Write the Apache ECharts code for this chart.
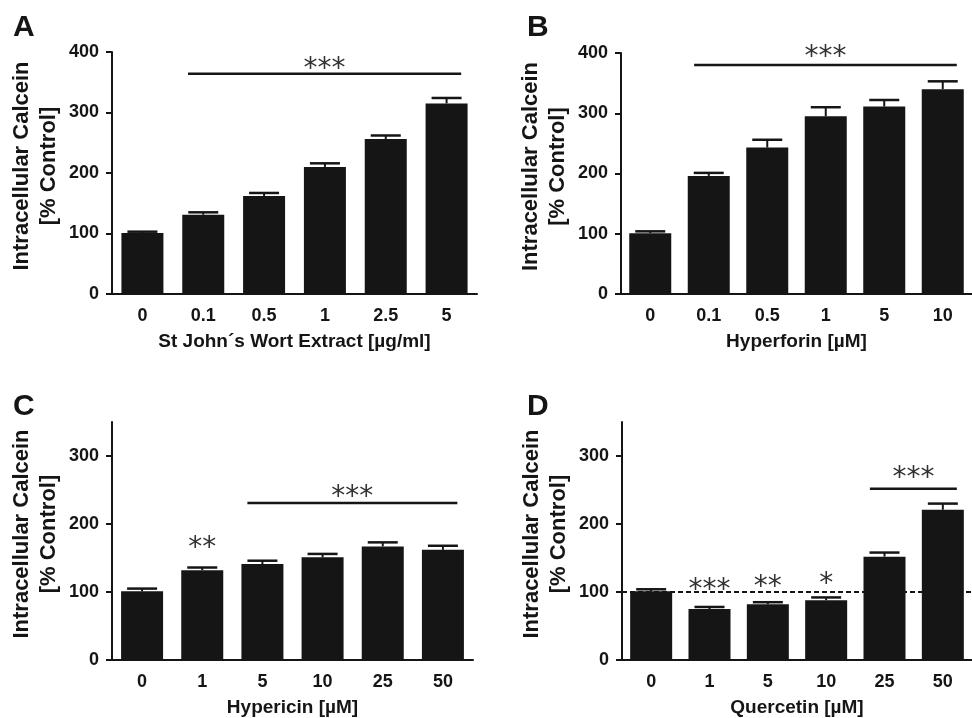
<!DOCTYPE html>
<html>
<head>
<meta charset="utf-8">
<script src="https://cdn.jsdelivr.net/npm/echarts@6/dist/echarts.min.js"></script>
<style>
html,body{margin:0;padding:0;background:#fff;}
#chart{width:972px;height:718px;}
</style>
</head>
<body>
<div id="chart"></div>
<script>
// ---- Data ----
const catsA = ['0', '0.1', '0.5', '1', '2.5', '5'];
const valsA = [101, 131, 162, 210, 256, 315];
const semA  = [2, 4, 5, 6, 6, 9];

const catsB = ['0', '0.1', '0.5', '1', '5', '10'];
const valsB = [101, 196, 243, 295, 311, 340];
const semB  = [3, 5, 13, 15, 11, 13];

const catsC = ['0', '1', '5', '10', '25', '50'];
const valsC = [101, 132, 141, 151, 167, 162];
const semC  = [4, 4, 5, 5, 6, 6];

const catsD = ['0', '1', '5', '10', '25', '50'];
const valsD = [101, 75, 82, 88, 152, 221];
const semD  = [3, 3, 3, 4, 6, 9];

const yTicksAB = [0, 100, 200, 300, 400];
const yTicksCD = [0, 100, 200, 300];

// significance lines: [fromIndex, toIndex, lineValue, label, labelValue]
const sigLinesA = [[1, 5, 364, '***', 380]];
const sigLinesB = [[1, 5, 380, '***', 402]];
const sigLinesC = [[2, 5, 231, '***', 247]];
const sigLinesD = [[4, 5, 252, '***', 276]];
// single-bar stars: [index, label, labelValue]
const sigStarsA = [];
const sigStarsB = [];
const sigStarsC = [[1, '**', 173]];
const sigStarsD = [[1, '***', 110], [2, '**', 115], [3, '*', 120]];

const xNames = ['St John\u00b4s Wort Extract [\u00b5g/ml]', 'Hyperforin [\u00b5M]', 'Hypericin [\u00b5M]', 'Quercetin [\u00b5M]'];
const yName = 'Intracellular Calcein\n[% Control]';
const panelLetters = ['A', 'B', 'C', 'D'];

// ---- Layout ----
const FONT = '"Liberation Sans", Arial, Helvetica, sans-serif';
const INK = '#151515';
const STAR_FONT = '28px "DejaVu Sans"';
const STAR_DY = 6;
const grids = [
  {left: 112, top: 52, width: 365, height: 242},
  {left: 621, top: 53, width: 360, height: 241},
  {left: 112, top: 422, width: 361, height: 240},
  {left: 622, top: 422, width: 360, height: 240}
];
const panels = [
  {cats: catsA, vals: valsA, sem: semA, max: 400, ticks: yTicksAB, lines: sigLinesA, stars: sigStarsA},
  {cats: catsB, vals: valsB, sem: semB, max: 400, ticks: yTicksAB, lines: sigLinesB, stars: sigStarsB},
  {cats: catsC, vals: valsC, sem: semC, max: 350, ticks: yTicksCD, lines: sigLinesC, stars: sigStarsC},
  {cats: catsD, vals: valsD, sem: semD, max: 350, ticks: yTicksCD, lines: sigLinesD, stars: sigStarsD}
];

const chart = echarts.init(document.getElementById('chart'), null, {renderer: 'canvas'});

const xAxes = [], yAxes = [], series = [], titles = [];
const letterPos = [[13, 13], [527, 13], [13, 392], [527, 392]];

panels.forEach((p, i) => {
  xAxes.push({
    type: 'category', gridIndex: i, data: p.cats,
    name: xNames[i], nameLocation: 'middle', nameGap: 38,
    nameTextStyle: {fontFamily: FONT, fontWeight: 'bold', fontSize: 19, color: INK},
    axisLine: {lineStyle: {color: INK, width: 2}},
    axisTick: {alignWithLabel: true, length: 5, lineStyle: {color: INK, width: 2}},
    axisLabel: {fontFamily: FONT, fontWeight: 'bold', fontSize: 18, color: INK, margin: 13},
    splitLine: {show: false}
  });
  yAxes.push({
    type: 'value', gridIndex: i, min: 0, max: p.max, interval: 100,
    name: yName, nameLocation: 'middle', nameGap: 50, nameRotate: 90,
    nameTextStyle: {fontFamily: FONT, fontWeight: 'bold', fontSize: 22, lineHeight: 27, color: INK, align: 'center', padding: [0, 0, 0, 14]},
    axisLine: {show: true, lineStyle: {color: INK, width: 2}},
    axisTick: {show: true, length: 6, lineStyle: {color: INK, width: 2}, customValues: p.ticks},
    axisLabel: {fontFamily: FONT, fontWeight: 'bold', fontSize: 18, color: INK, margin: 13, customValues: p.ticks,
      formatter: v => (p.ticks.indexOf(v) >= 0 ? String(v) : '')},
    splitLine: {show: false}
  });

  const bar = {
    type: 'bar', xAxisIndex: i, yAxisIndex: i, data: p.vals, barWidth: 42,
    itemStyle: {color: INK}, z: 2, animation: false
  };
  if (i === 3) {
    bar.markLine = {
      silent: true, symbol: ['none', 'none'], label: {show: false},
      lineStyle: {type: [5, 3], width: 2, color: INK},
      data: [{yAxis: 100}], animation: false
    };
  }
  series.push(bar);

  // error bars (upper only)
  series.push({
    type: 'custom', xAxisIndex: i, yAxisIndex: i, clip: false, z: 3, animation: false,
    data: p.vals.map((v, k) => [k, v, v + p.sem[k]]),
    encode: {x: 0, y: 1},
    renderItem: (params, api) => {
      const k = api.value(0);
      const a = api.coord([k, api.value(1)]);
      const b = api.coord([k, api.value(2)]);
      return {type: 'group', children: [
        {type: 'line', shape: {x1: a[0], y1: a[1], x2: b[0], y2: b[1]}, style: {stroke: INK, lineWidth: 2}},
        {type: 'line', shape: {x1: b[0] - 15, y1: b[1], x2: b[0] + 15, y2: b[1]}, style: {stroke: INK, lineWidth: 2.5}}
      ]};
    }
  });

  // significance lines with labels
  if (p.lines.length) {
    series.push({
      type: 'custom', xAxisIndex: i, yAxisIndex: i, clip: false, z: 4, animation: false,
      data: p.lines.map(l => [l[0], l[1], l[2], l[4]]),
      encode: {x: 0, y: 2},
      renderItem: (params, api) => {
        const l = p.lines[params.dataIndex];
        const band = api.size([1, 0])[0];
        const a = api.coord([l[0], l[2]]);
        const b = api.coord([l[1], l[2]]);
        const t = api.coord([l[0], l[4]]);
        const x1 = a[0] - 0.25 * band, x2 = b[0] + 0.24 * band;
        return {type: 'group', children: [
          {type: 'line', shape: {x1: x1, y1: a[1], x2: x2, y2: a[1]}, style: {stroke: INK, lineWidth: 2.5}},
          {type: 'text', x: (x1 + x2) / 2, y: t[1] + STAR_DY, style: {text: l[3], fill: '#333', font: STAR_FONT, align: 'center', verticalAlign: 'middle'}}
        ]};
      }
    });
  }
  if (p.stars.length) {
    series.push({
      type: 'custom', xAxisIndex: i, yAxisIndex: i, clip: false, z: 4, animation: false,
      data: p.stars.map(s => [s[0], s[2]]),
      encode: {x: 0, y: 1},
      renderItem: (params, api) => {
        const s = p.stars[params.dataIndex];
        const c = api.coord([s[0], s[2]]);
        return {type: 'text', x: c[0], y: c[1] + STAR_DY, style: {text: s[1], fill: '#333', font: STAR_FONT, align: 'center', verticalAlign: 'middle'}};
      }
    });
  }

  titles.push({
    text: panelLetters[i], left: letterPos[i][0], top: letterPos[i][1], padding: 0,
    textStyle: {fontFamily: FONT, fontWeight: 'bold', fontSize: 30, color: INK}
  });
});

chart.setOption({
  animation: false,
  backgroundColor: '#ffffff',
  title: titles,
  grid: grids,
  xAxis: xAxes,
  yAxis: yAxes,
  series: series
});
</script>
</body>
</html>
